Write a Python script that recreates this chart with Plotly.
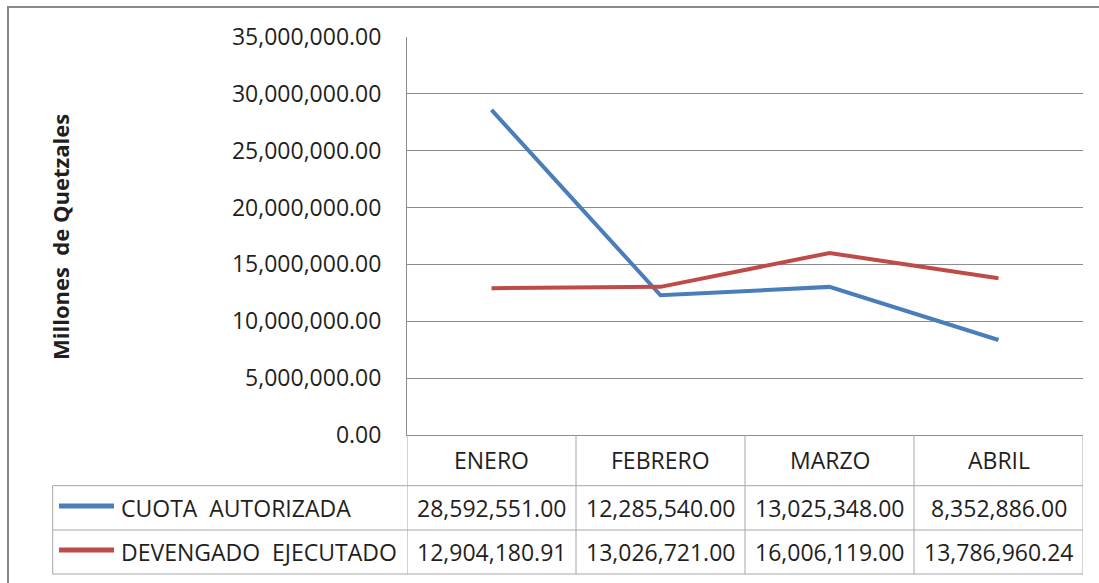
import plotly.graph_objects as go

# ---------------- data ----------------
meses = ["ENERO", "FEBRERO", "MARZO", "ABRIL"]
cuota_autorizada = [28592551.00, 12285540.00, 13025348.00, 8352886.00]
devengado_ejecutado = [12904180.91, 13026721.00, 16006119.00, 13786960.24]
series_nombres = ["CUOTA\u00a0 AUTORIZADA", "DEVENGADO\u00a0 EJECUTADO"]
y_titulo = "Millones\u00a0 de Quetzales"
y_max = 35000000
y_paso = 5000000

# ---------------- style / layout ----------------
series_colores = ["#4A7EBB", "#BE4B48"]
W, H = 1099, 583
L, R, T, B = 407, 1083, 37, 435          # plot area in pixels
ROW_TOP = [485.7, 530.0]                 # top of each series row
ROW_BOT = 574.0
HEADER_MID = 460
ROW_MID = [508, 552]
LEG_LEFT = 52.7

FONT = "Open Sans, Liberation Sans, sans-serif"
TXT = "#1f1f1f"
GRID = "#8c8c8c"
TBL = "#a6a6a6"


def px(x):
    return (x - L) / (R - L)


def py(y):
    return (B - y) / (B - T)


fig = go.Figure()
series_vals = [cuota_autorizada, devengado_ejecutado]
for nombre, vals, color in zip(series_nombres, series_vals, series_colores):
    fig.add_trace(go.Scatter(
        x=meses, y=vals, mode="lines", name=nombre,
        line=dict(color=color, width=4),
        showlegend=False, hoverinfo="skip",
    ))

shapes = []
annotations = []

# outer chart border
shapes.append(dict(type="rect", xref="paper", yref="paper",
                   x0=px(8), x1=px(1115), y0=py(7), y1=py(600),
                   line=dict(color="#888888", width=2), layer="below"))

# table: vertical separators at category boundaries
for i in range(len(meses) + 1):
    shapes.append(dict(type="line", xref="x", yref="paper",
                       x0=i - 0.5, x1=i - 0.5, y0=py(B), y1=py(ROW_BOT),
                       line=dict(color=TBL, width=1)))
# table: horizontal lines
for yy in ROW_TOP + [ROW_BOT]:
    shapes.append(dict(type="line", xref="paper", yref="paper",
                       x0=px(LEG_LEFT), x1=1, y0=py(yy), y1=py(yy),
                       line=dict(color=TBL, width=1)))
# legend column left edge
shapes.append(dict(type="line", xref="paper", yref="paper",
                   x0=px(LEG_LEFT), x1=px(LEG_LEFT), y0=py(ROW_TOP[0]), y1=py(ROW_BOT),
                   line=dict(color=TBL, width=1)))

# header labels
for m in meses:
    annotations.append(dict(x=m, xref="x", y=py(HEADER_MID), yref="paper",
                            text=m, showarrow=False, xanchor="center", yanchor="middle",
                            font=dict(family=FONT, size=23, color=TXT)))

# rows: legend key + name + values
for k, (nombre, vals, color) in enumerate(zip(series_nombres, series_vals, series_colores)):
    ym = ROW_MID[k]
    shapes.append(dict(type="line", xref="paper", yref="paper",
                       x0=px(59), x1=px(114), y0=py(ym - 2), y1=py(ym - 2),
                       line=dict(color=color, width=5)))
    annotations.append(dict(x=px(119), xref="paper", y=py(ym), yref="paper",
                            text=nombre, showarrow=False, xanchor="left", yanchor="middle",
                            font=dict(family=FONT, size=23, color=TXT)))
    for m, v in zip(meses, vals):
        annotations.append(dict(x=m, xref="x", y=py(ym), yref="paper",
                                text=f"{v:,.2f}", showarrow=False,
                                xanchor="center", yanchor="middle",
                                font=dict(family=FONT, size=23, color=TXT)))

# y-axis title
annotations.append(dict(x=px(60), xref="paper", y=py(237), yref="paper",
                        text=y_titulo, textangle=-90, showarrow=False,
                        xanchor="center", yanchor="middle",
                        font=dict(family=FONT, size=22, color=TXT, weight="bold")))

fig.update_layout(
    width=W, height=H,
    margin=dict(l=L, r=W - R, t=T, b=H - B, pad=0),
    paper_bgcolor="white", plot_bgcolor="white",
    shapes=shapes, annotations=annotations,
    xaxis=dict(type="category", range=[-0.5, len(meses) - 0.5],
               showticklabels=False, showgrid=False, zeroline=False,
               showline=True, linecolor=GRID, linewidth=1, ticks=""),
    yaxis=dict(range=[0, y_max], dtick=y_paso, tick0=0, tickformat=",.2f",
               showgrid=True, gridcolor=GRID, gridwidth=1, zeroline=False,
               showline=True, linecolor=GRID, linewidth=1, ticks="",
               ticklabelstandoff=20,
               tickfont=dict(family=FONT, size=23, color=TXT)),
    font=dict(family=FONT, color=TXT),
)

fig.write_html("out.html",
               config={"displayModeBar": False},
               post_script="document.body.style.margin='0';document.body.style.overflow='hidden';")
